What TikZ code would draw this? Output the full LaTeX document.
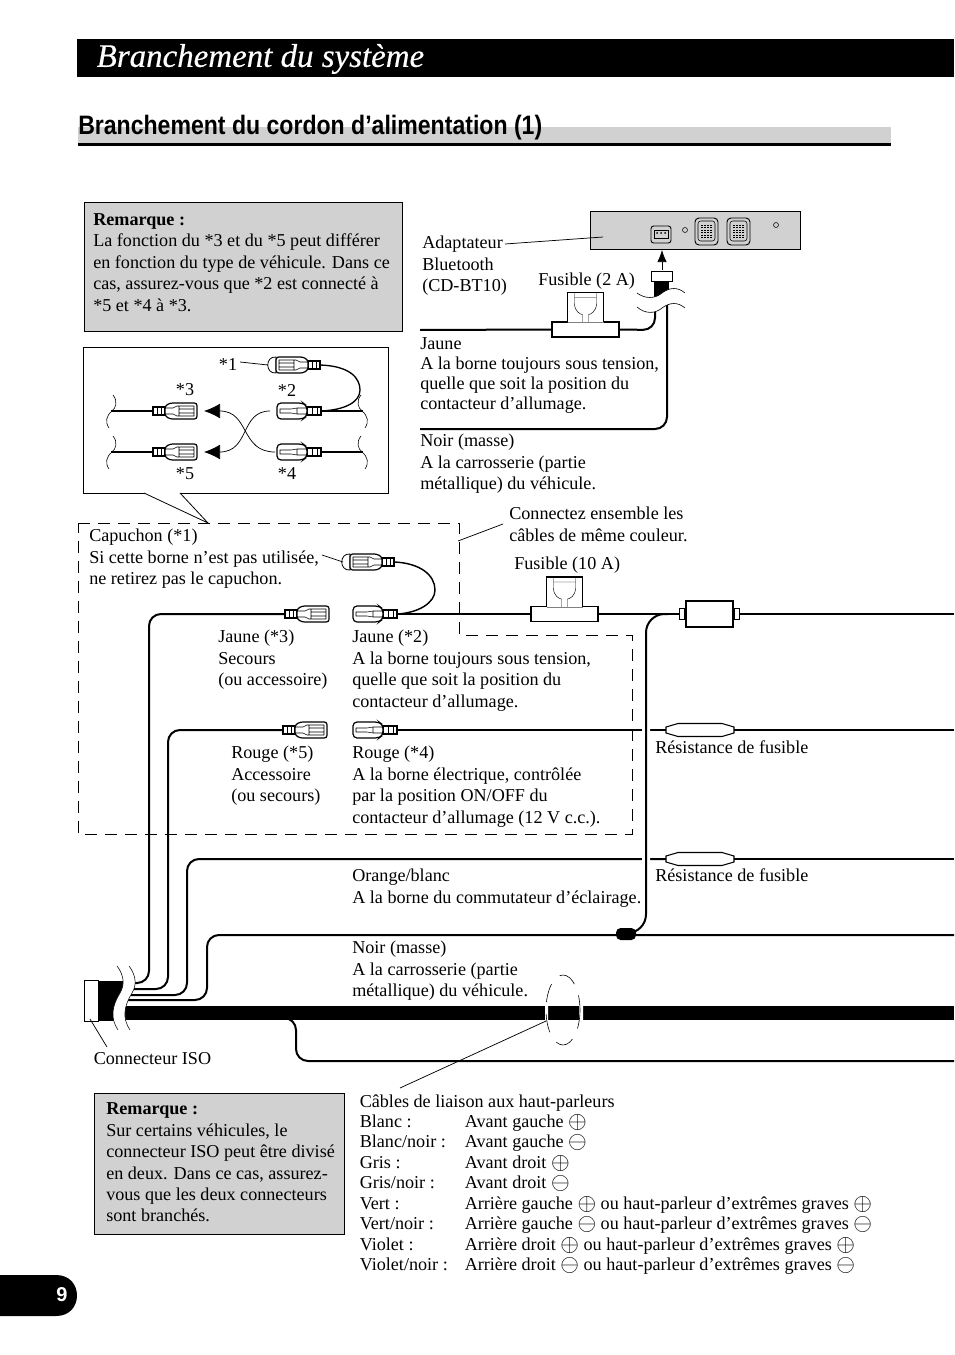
\documentclass[tikz,border=0pt]{standalone}
\usepackage{fontspec}
\setmainfont{Liberation Serif}
\newfontfamily\headfont[FakeStretch=0.865]{Liberation Sans}
\newfontfamily\numfont{Liberation Sans}
\newfontfamily\titlefont[FakeBold=0.4]{Liberation Serif Italic}
\usetikzlibrary{arrows.meta}
\definecolor{boxgray}{gray}{0.82}
\newcommand{\cplus}{\raisebox{-1pt}{\scalebox{1.25}{$\oplus$}}}
\newcommand{\cminus}{\raisebox{-1pt}{\scalebox{1.25}{$\ominus$}}}
\newcommand{\plugmbody}{
    \draw[fill=white, line width=.9pt] (0,-4) rectangle (12,4);
    \draw[line width=.4pt] (4,-4) -- (4,4) (8,-4) -- (8,4);
    \draw[fill=white, line width=.9pt, rounded corners=2pt] (12,-5) -- (17,-8) -- (44,-8) -- (44,8) -- (17,8) -- (12,5) -- cycle;
    \draw[line width=.4pt] (12,-3) -- (20,-3) -- (24,-5) -- (41,-5) -- (41,5) -- (24,5) -- (20,3) -- (12,3) (26,-2) -- (41,-2) (26,2) -- (41,2) (26,-5) -- (26,5);
}
\tikzset{
  txt/.style={anchor=north west, inner sep=0pt, align=left, font=\fontsize{13.6}{16.1}\selectfont, execute at begin node=\strut},
  mid txt/.style={inner sep=0pt, font=\fontsize{13.6}{16.1}\selectfont},
  wire/.style={line width=1.5pt, rounded corners=9pt},
  thin wire/.style={line width=.9pt},
  leader/.style={line width=.55pt},
  note box/.style={anchor=north west, draw, line width=.6pt, fill=boxgray, minimum width=#1, inner sep=0pt},
  fuse base/.style={draw, fill=white, line width=1.2pt, minimum width=50pt, minimum height=11pt, inner sep=0pt},
  pics/resistor/.style={code={
    \draw[fill=white, line width=.8pt] (-34,-3) -- (-22,-6.5) -- (22,-6.5) -- (34,-3) -- (34,3) -- (22,6.5) -- (-22,6.5) -- (-34,3) -- cycle;
    \coordinate (-w) at (-34,0);
    \coordinate (-e) at (34,0);
  }},
  pics/plugm/.style={code={\plugmbody}},
  pics/plugf/.style={code={
    \draw[fill=white, line width=.9pt] (0,-4) rectangle (14,4);
    \draw[line width=.4pt] (4,-4) -- (4,4) (9,-4) -- (9,4);
    \draw[fill=white, line width=.9pt, rounded corners=3pt] (14,-5) -- (18,-8) -- (44,-8) -- (44,8) -- (18,8) -- (14,5) -- cycle;
    \draw[line width=.4pt] (14,-3) -- (24,-3) -- (30,-2) -- (41,-2) -- (41,2) -- (30,2) -- (24,3) -- (14,3) (24,-3) -- (24,3);
  }},
  pics/capped/.style={code={
    \draw[fill=white, line width=.6pt] (44,-8) .. controls (55,-9) and (55,9) .. (44,8) -- cycle;
    \plugmbody
  }},
  pics/fuse top/.style={code={
    \draw[fill=white, line width=.8pt] (-18,-7) -- (-18,-37) -- (18,-37) -- (18,-7);
    \draw[line width=.35pt] (-11,-32) -- (11,-32) (-11,-37) -- (-11,-26) .. controls (-11,-18) and (-5,-15) .. (-3,-15) -- (-3,-7) (11,-37) -- (11,-26) .. controls (11,-18) and (5,-15) .. (3,-15) -- (3,-7);
    \draw[line width=.35pt, gray] (-18,-7) -- (18,-7);
  }},
  pics/squiggle/.style={code={
    \draw[line width=.45pt] (2,-16) .. controls (7,-10) and (5,-3) .. (1,0) .. controls (-5,5) and (-6,11) .. (-2,17);
  }}
}
\begin{document}
\begin{tikzpicture}[x=.75pt, y=-.75pt]
\useasboundingbox (0,0) rectangle (954,1355);
\fill[black] (77,39) rectangle (954,77);
\node[anchor=west, inner sep=0pt, text=white, font=\fontsize{24.7}{28}\selectfont\titlefont] (title) at (96.5,59) {Branchement du syst\`eme};
\fill[boxgray] (78,127) rectangle (891,143);
\fill[black] (78,143) rectangle (891,146);
\node[anchor=base west, inner sep=0pt, font=\fontsize{20}{24}\selectfont\headfont\bfseries] (subtitle) at (78,135) {Branchement du cordon d’alimentation (1)};

\node[note box=238.5pt, minimum height=97pt] (notea) at (84,202) {};
\node[txt] (noteatxt) at (93,213) {\textbf{Remarque :}\\La fonction du *3 et du *5 peut diff\'erer\\en fonction du type de v\'ehicule. Dans ce\\cas, assurez-vous que *2 est connect\'e \`a\\*5 et *4 \`a *3.};

% callout
\draw[line width=.6pt] (83.5,347) rectangle (388.5,493);
\draw[line width=.6pt, fill=white] (144,493) -- (208,523) -- (180,493);
\foreach \s/\y in {ic/411, ie/452}{
  \coordinate (\s) at (153,\y);
  \coordinate (\s end) at (111,\y);
  \pic at (\s end) {squiggle};
  \draw[thin wire] (\s end) -- (\s);
  \pic at (\s) {plugm};}
\foreach \s/\y in {ib/411, id/452}{
  \coordinate (\s) at (321,\y);
  \coordinate (\s end) at (363,\y);
  \pic[xscale=-1] at (\s end) {squiggle};
  \draw[thin wire] (\s end) -- (\s);
  \pic[xscale=-1] at (\s) {plugf};}
\coordinate (ia) at (320,365);
\pic[xscale=-1] at (ia) {capped};
\draw[line width=1pt] (ia) .. controls (350,366) and (360,378) .. (360,390) .. controls (360,402) and (345,410) .. (ib);
\coordinate (ibin) at (270,411); \coordinate (idin) at (275,452);
\coordinate (ictip) at (204,411); \coordinate (ietip) at (204,452);
\draw[line width=.55pt, -{Latex[length=12pt, width=11pt]}] (ibin) .. controls (240,411) and (250,452) .. (ietip);
\draw[line width=.55pt, -{Latex[length=12pt, width=11pt]}] (idin) .. controls (240,452) and (250,411) .. (ictip);
\foreach \s/\x/\y/\t in {la/228/365/*1, lc/185/390/*3, lb/287/390/*2, le/185/474/*5, ld/287/474/*4}{
  \node[mid txt] (\s) at (\x,\y) {\t};}
\draw[leader] (240,362) -- (268,365);

% bluetooth adapter
\node[anchor=north west, draw, line width=.6pt, fill=boxgray, minimum width=157.5pt, minimum height=28.5pt, inner sep=0pt] (adapter) at (590,211) {};
\draw[line width=.7pt, fill=boxgray, rounded corners=2pt] (651,226) rectangle (671,243);
\draw[line width=.4pt] (654,230) rectangle (668,238);
\foreach \x in {657, 661, 665}{
  \fill[black] (\x,233) circle (1);}
\foreach \x in {695, 727}{
  \draw[line width=.7pt, rounded corners=3pt] (\x,218) rectangle (\x+23,245);
  \draw[line width=.4pt, rounded corners=2pt] (\x+3,221) rectangle (\x+20,241);
  \foreach \i in {0,1,2,3}{
    \draw[line width=.8pt, densely dotted] (\x+7+3*\i,225) -- (\x+7+3*\i,238);}}
\foreach \x/\y in {685/230, 776/225}{
  \draw[line width=.4pt] (\x,\y) circle (2.5);}
\node[txt] (adaptertxt) at (422,236) {Adaptateur\\Bluetooth\\(CD-BT10)};
\coordinate (adapterin) at (603,237);
\draw[leader] (505,244) -- (adapterin);
\coordinate (adapterport) at (662,250); \coordinate (plugtop) at (662,270);
\draw[line width=.5pt, -{Latex[length=9pt, width=7pt]}] (plugtop) -- (adapterport);
\node[anchor=north west, draw, fill=white, line width=.7pt, minimum width=15.5pt, minimum height=7.5pt, inner sep=0pt] (btplug) at (651,271) {};
\fill[black] (654,281) rectangle (669,300);
\node[mid txt, anchor=base west] (fusea) at (538,285) {Fusible (2 A)};
\node[fuse base] (fuseb) at (585.5,329.5) {};
\pic at (fuseb) {fuse top};
\coordinate (juna) at (420,330); \coordinate (junb) at (655,300); \coordinate (juncorner) at (655,330);
\draw[wire] (juna) -- (fuseb.west) (fuseb.east) -- (juncorner) -- (junb);
\coordinate (noirb) at (420,429); \coordinate (noirc) at (667,429); \coordinate (noird) at (667,298);
\draw[wire] (noirb) -- (noirc) -- (noird);
\fill[white] (637,293) .. controls (645,299) and (655,299) .. (662,293) .. controls (670,287) and (678,287) .. (685,293) -- (685,308) .. controls (678,302) and (670,302) .. (662,308) .. controls (655,314) and (645,314) .. (637,307) -- cycle;
\draw[line width=.45pt] (637,293) .. controls (645,299) and (655,299) .. (662,293) .. controls (670,287) and (678,287) .. (685,293);
\draw[line width=.45pt] (637,307) .. controls (645,314) and (655,314) .. (662,308) .. controls (670,302) and (678,302) .. (685,308);
\node[txt] (juntxt) at (420,337) {Jaune\\[-1pt]A la borne toujours sous tension,\\[-1pt]quelle que soit la position du\\[-1pt]contacteur d’allumage.};
\node[txt] (noirtxt) at (420,434) {Noir (masse)\\A la carrosserie (partie\\m\'etallique) du v\'ehicule.};
\draw[leader] (503,524) -- (458,541);
\node[txt] (conntxt) at (509,507) {Connectez ensemble les\\c\^ables de m\^eme couleur.};

% harness
\draw[line width=.6pt, dash pattern=on 9pt off 6pt] (78,523) -- (459,523) -- (459,635) -- (632,635) -- (632,834) -- (78,834) -- cycle;
\node[mid txt, anchor=base west] (fuset) at (514,569) {Fusible (10 A)};
\node[txt] (captxt) at (89,529) {Capuchon (*1)\\Si cette borne n’est pas utilis\'ee,\\ne retirez pas le capuchon.};
\node[txt] (jctxt) at (218,630) {Jaune (*3)\\Secours\\(ou accessoire)};
\node[txt] (jbtxt) at (352,630) {Jaune (*2)\\A la borne toujours sous tension,\\quelle que soit la position du\\contacteur d’allumage.};
\node[txt] (rctxt) at (231,746) {Rouge (*5)\\Accessoire\\(ou secours)};
\node[txt] (rbtxt) at (352,746) {Rouge (*4)\\A la borne \'electrique, contr\^ol\'ee\\par la position ON/OFF du\\contacteur d’allumage (12 V c.c.).};
\node[mid txt, anchor=base west] (resa) at (655,753) {R\'esistance de fusible};
\node[mid txt, anchor=base west] (resb) at (655,881) {R\'esistance de fusible};
\node[txt] (orangetxt) at (352,869) {Orange/blanc\\A la borne du commutateur d’\'eclairage.};
\node[txt] (masstxt) at (352,941) {Noir (masse)\\A la carrosserie (partie\\m\'etallique) du v\'ehicule.};
\node[mid txt, anchor=base west] (isotxt) at (93.5,1064) {Connecteur ISO};

\coordinate (pc) at (285,614); \coordinate (pe) at (283,730);
\coordinate (pb) at (397,614); \coordinate (pd) at (397,730);
\coordinate (pa) at (394,562); \coordinate (right) at (954,0);
\pic at (pc) {plugm};
\pic at (pe) {plugm};
\pic[xscale=-1] at (pb) {plugf};
\pic[xscale=-1] at (pd) {plugf};
\pic[xscale=-1] at (pa) {capped};
\draw[line width=1.1pt] (pa) .. controls (420,563) and (435,575) .. (435,590) .. controls (435,603) and (418,613) .. (pb);
\draw[leader] (322,555) -- (343,562);

\node[fuse base] (fuset base) at (564.5,614) {};
\pic at (fuset base) {fuse top};
\node[draw, fill=white, line width=1.2pt, minimum width=35pt, minimum height=19.5pt, inner sep=0pt] (relay) at (709.5,614) {};
\node[draw, fill=white, line width=.9pt, minimum width=4pt, minimum height=8pt, inner sep=0pt, anchor=east] (nubl) at (relay.west) {};
\node[draw, fill=white, line width=.9pt, minimum width=4pt, minimum height=8pt, inner sep=0pt, anchor=west] (nubr) at (relay.east) {};
\pic (resd) at (700,730) {resistor};
\pic (rese) at (700,859) {resistor};
\coordinate (wcs) at (133,983); \coordinate (wes) at (133,989); \coordinate (wos) at (131,995); \coordinate (wks) at (128,1000);
\coordinate (wcc) at (149,983); \coordinate (wct) at (149,614);
\coordinate (wec) at (168,989); \coordinate (wet) at (168,730);
\coordinate (woc) at (187,995); \coordinate (wot) at (187,859);
\coordinate (wkc) at (207,1000); \coordinate (wkt) at (207,935);
\draw[wire] (wcs) -- (wcc) -- (wct) -- (pc);
\draw[wire] (wes) -- (wec) -- (wet) -- (pe);
\draw[wire] (wos) -- (woc) -- (wot) -- (rese-w);
\draw[wire] (rese-e) -- (right |- rese-e);
\draw[wire] (pd) -- (resd-w);
\draw[wire] (resd-e) -- (right |- resd-e);
\coordinate (vstart) at (668,614); \coordinate (vtop) at (646,614); \coordinate (vlow) at (646,933); \coordinate (blob) at (632,933);
\draw[wire, rounded corners=14pt, preaction={draw, white, line width=6pt}] (vstart) -- (vtop) -- (vlow) -- (blob);
\draw[wire] (wks) -- (wkc) -- (wkt) -- (right |- wkt);
\draw[wire] (pb) -- (fuset base.west);
\draw[wire] (fuset base.east) -- (nubl.west);
\draw[wire] (nubr.east) -- (right |- nubr);
\fill[black, rounded corners=3.5pt] (616,928) rectangle (636,940);

\fill[black] (98,981) rectangle (126,1021);
\fill[black] (126,1006) rectangle (954,1020);
\coordinate (ctop) at (280,1018); \coordinate (cmid) at (296,1018); \coordinate (clow) at (296,1061);
\draw[wire] (ctop) -- (cmid) -- (clow) -- (right |- clow);
\fill[white] (117,966) .. controls (124,975) and (125,985) .. (120,993) .. controls (112,1006) and (110,1018) .. (118,1030) -- (130,1030) .. controls (122,1018) and (124,1006) .. (132,993) .. controls (137,985) and (136,975) .. (129,966) -- cycle;
\draw[line width=.4pt] (117,966) .. controls (124,975) and (125,985) .. (120,993) .. controls (112,1006) and (110,1018) .. (118,1030);
\draw[line width=.4pt] (129,966) .. controls (136,975) and (137,985) .. (132,993) .. controls (124,1006) and (122,1018) .. (130,1030);
\node[anchor=north west, draw, fill=white, line width=.7pt, minimum width=10.5pt, minimum height=31pt, inner sep=0pt] (iso) at (84,980) {};
\coordinate (isoin) at (90,1019);
\draw[leader] (107,1047) -- (isoin);

\fill[white] (545,1004) rectangle (548,1022) (579,1004) rectangle (583,1022);
\draw[line width=.45pt, dash pattern=on 14pt off 9pt] (563,1010) ellipse (17 and 35);
\coordinate (spkin) at (546,1021); \coordinate (spkout) at (400,1088);
\draw[leader] (spkin) -- (spkout);

\node[note box=187.5pt, minimum height=106pt] (noteb) at (94,1093) {};
\node[txt] (notebtxt) at (106,1102.5) {\textbf{Remarque :}\\Sur certains v\'ehicules, le\\connecteur ISO peut \^etre divis\'e\\en deux. Dans ce cas, assurez-\\vous que les deux connecteurs\\sont branch\'es.};

\node[mid txt, anchor=base west] (spktitle) at (359.5,1107) {C\^ables de liaison aux haut-parleurs};
\foreach \n/\t [count=\i from 0] in {
  {Blanc :}/{Avant gauche \cplus},
  {Blanc/noir :}/{Avant gauche \cminus},
  {Gris :}/{Avant droit \cplus},
  {Gris/noir :}/{Avant droit \cminus},
  {Vert :}/{Arri\`ere gauche \cplus{} ou haut-parleur d’extr\^emes graves \cplus},
  {Vert/noir :}/{Arri\`ere gauche \cminus{} ou haut-parleur d’extr\^emes graves \cminus},
  {Violet :}/{Arri\`ere droit \cplus{} ou haut-parleur d’extr\^emes graves \cplus},
  {Violet/noir :}/{Arri\`ere droit \cminus{} ou haut-parleur d’extr\^emes graves \cminus}}{
  \node[mid txt, anchor=base west] (spkn\i) at (359.5,{1127+20.5*\i}) {\n};
  \node[mid txt, anchor=base west] (spkv\i) at (464.5,{1127+20.5*\i}) {\t};}

\fill[black] (0,1275) -- (56,1275) .. controls (70,1275) and (77,1285) .. (77,1295.5) .. controls (77,1306) and (70,1316) .. (56,1316) -- (0,1316) -- cycle;
\node[inner sep=0pt, text=white, font=\fontsize{15}{18}\selectfont\numfont\bfseries] (pagenum) at (62,1295) {9};
\end{tikzpicture}
\end{document}
